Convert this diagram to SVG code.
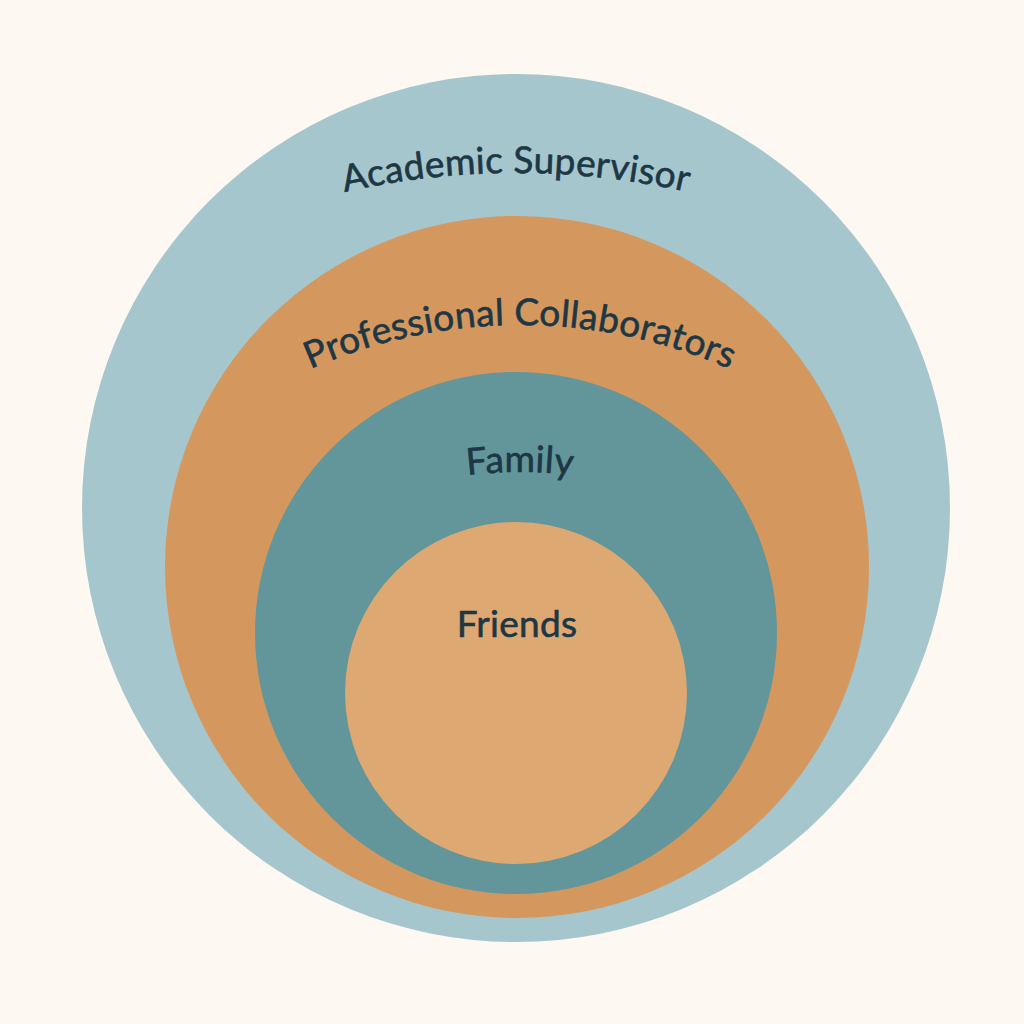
<svg xmlns="http://www.w3.org/2000/svg" width="1024" height="1024" viewBox="0 0 1024 1024">
  <style>
    .label { font-family: Lato, "Open Sans", "Liberation Sans", sans-serif; font-size: 37px; fill: #1d3745; stroke: #1d3745; stroke-width: 0.6px; text-anchor: middle; letter-spacing: 0.3px; }
  </style>
  <defs>
    <!-- arcs used as baselines for the curved labels -->
    <path id="arc-academic" d="M -264,953 A 780 780 0 0 1 1296,953"/>
    <path id="arc-professional" d="M 0,845 A 520 520 0 0 1 1040,845"/>
    <path id="arc-family" d="M 70,922 A 450 450 0 0 1 970,922"/>
  </defs>
  <rect width="1024" height="1024" fill="#fdf8f1"/>

  <g id="academic-supervisor">
    <circle cx="516" cy="508" r="434" fill="#a6c6cd"/>
    <text class="label"><textPath href="#arc-academic" startOffset="50%">Academic Supervisor</textPath></text>
  </g>

  <g id="professional-collaborators">
    <ellipse cx="517" cy="567" rx="352" ry="351" fill="#d4985f"/>
    <text class="label"><textPath href="#arc-professional" startOffset="50%">Professional Collaborators</textPath></text>
  </g>

  <g id="family">
    <circle cx="516" cy="633" r="261" fill="#62969b"/>
    <text class="label"><textPath href="#arc-family" startOffset="50%">Family</textPath></text>
  </g>

  <g id="friends">
    <circle cx="516" cy="693" r="171" fill="#dea872"/>
    <text class="label" x="517" y="637">Friends</text>
  </g>

  <g id="connectors"/>
</svg>
